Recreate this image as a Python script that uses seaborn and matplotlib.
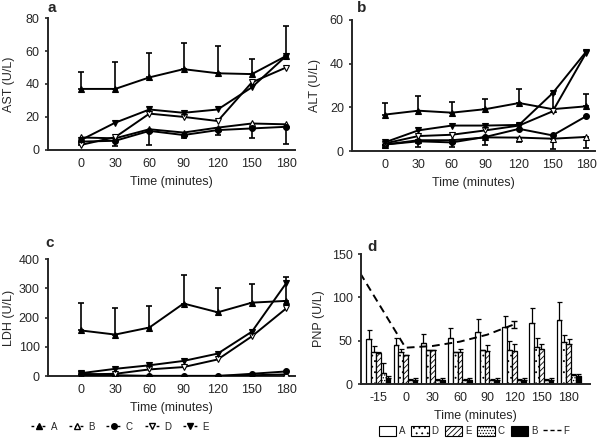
import numpy as np
import pandas as pd
import matplotlib
matplotlib.use('Agg')
import matplotlib.pyplot as plt
import seaborn as sns
from matplotlib.lines import Line2D
from matplotlib.patches import Patch

# time points (minutes)
times = [0, 30, 60, 90, 120, 150, 180]

# AST (U/L)
ast_A = [37, 37, 44, 49, 46.5, 46, 57]
ast_A_err = [10, 16.5, 15, 16, 16.5, 9, 18]
ast_B = [7.5, 7, 12.5, 10.5, 13.5, 16, 15.5]
ast_C = [5, 5.5, 11.5, 9, 12, 13, 14]
ast_C_err = [2, 3, 8.5, 2, 3, 6, 10.5]
ast_D = [3, 7.7, 22, 20, 17.5, 41, 50]
ast_E = [6, 16.5, 24.5, 22.5, 24.5, 38, 57]

# ALT (U/L)
alt_A = [16.7, 18.5, 17.6, 19.2, 22, 19.2, 20.5]
alt_A_err = [5.3, 6.5, 4.8, 4.8, 6.5, 7, 5.8]
alt_B = [3, 5, 5, 6.3, 6.2, 5.7, 6.5]
alt_B_err = [1.5, 3, 3, 3.5, 2, 4.5, 5]
alt_C = [3, 4.5, 4, 6.5, 10.2, 7.2, 16]
alt_D = [3.5, 6.9, 7.5, 9.5, 11.7, 18.2, 45]
alt_E = [4, 9.5, 11.7, 11.7, 12, 26.5, 45.5]

# LDH (U/L)
ldh_A = [156, 142, 166, 248, 218, 251, 257]
ldh_A_err = [95, 92, 74, 98, 84, 63, 83]
ldh_B = [2, 1, 1, 1, 1, 3, 6]
ldh_C = [8, 3, 0.5, 0.5, 0.5, 8, 16]
ldh_D = [6, 8, 23, 31, 57, 136, 231]
ldh_E = [10, 25, 37, 52, 77, 152, 317]

# PNP (U/L) bars
pnp_times = ['-15', '0', '30', '60', '90', '120', '150', '180']
pnp_groups = ['A', 'D', 'E', 'C', 'B']
pnp_A = [51.5, 45, 47, 52.7, 60, 66, 70, 73.5]
pnp_A_err = [11.5, 8.5, 11, 12.3, 15, 13, 18, 21]
pnp_D = [37, 36.5, 39, 37.3, 39, 39, 43, 49]
pnp_D_err = [6.5, 4.5, 0, 0, 0, 10.6, 9.7, 8]
pnp_E = [35.4, 33.5, 39, 37.3, 38, 38, 40.8, 46]
pnp_E_err = [2, 0, 0, 2.7, 7, 7.8, 5.7, 5.5]
pnp_C = [13, 4.6, 4.6, 4.6, 4.6, 4.6, 4.6, 10]
pnp_C_err = [11, 1.4, 1.4, 1.4, 1.4, 1.4, 1.4, 2]
pnp_B = [7.3, 5, 5, 5, 5, 5, 5, 9.2]
pnp_B_err = [1.7, 1.5, 1.5, 1.5, 1.5, 1.5, 1.5, 2.8]

# PNP line F
F_times = [-25, 0, 30, 60, 90, 120]
F_vals = [128, 42, 44, 49, 57, 69]
F_err = [0, 0, 0, 0, 0, 4]

sns.set_style('ticks')
plt.rcParams['font.family'] = ['Liberation Sans', 'DejaVu Sans']
plt.rcParams['hatch.linewidth'] = 0.6

markers = {'A': ('^', 'black'), 'B': ('^', 'white'), 'C': ('o', 'black'),
           'D': ('v', 'white'), 'E': ('v', 'black')}

fig = plt.figure(figsize=(6, 4.42), dpi=100)
ax_a = fig.add_axes([0.08, 0.661, 0.412, 0.298])
ax_b = fig.add_axes([0.587, 0.658, 0.405, 0.297])
ax_c = fig.add_axes([0.08, 0.149, 0.412, 0.265])
ax_d = fig.add_axes([0.602, 0.131, 0.382, 0.294])

fs = 9


def finish(ax, ylabel, letter, label_x, letter_xy):
    ax.set_xlabel('Time (minutes)', fontsize=fs, labelpad=4)
    ax.set_ylabel(ylabel, fontsize=fs)
    ax.yaxis.set_label_coords(label_x, 0.5)
    ax.tick_params(labelsize=fs, length=2.5, width=1.2)
    ax.tick_params(axis='x', length=0, pad=6)
    sns.despine(ax=ax)
    for s in ['left', 'bottom']:
        ax.spines[s].set_linewidth(1.4)
    ax.text(letter_xy[0], letter_xy[1], letter, transform=ax.transAxes, fontsize=11,
            fontweight='bold', ha='left', va='center')


def line_panel(ax, series, up_err, down_err, ymax, ystep):
    for g, vals in series.items():
        m, fc = markers[g]
        sns.lineplot(x=times, y=vals, ax=ax, color='black', lw=1.4, marker=m,
                     markersize=4.2, markerfacecolor=fc, markeredgecolor='black',
                     markeredgewidth=0.8, zorder=3)
    for g, err in up_err.items():
        ax.errorbar(times, series[g], yerr=[np.zeros(len(err)), err], fmt='none',
                    ecolor='black', elinewidth=1.2, capsize=2.5, capthick=1.2)
    for g, err in down_err.items():
        ax.errorbar(times, series[g], yerr=[err, np.zeros(len(err))], fmt='none',
                    ecolor='black', elinewidth=1.2, capsize=2.5, capthick=1.2)
    ax.set_xlim(-29, 188)
    ax.set_ylim(0, ymax)
    ax.set_xticks(times)
    ax.set_yticks(np.arange(0, ymax + 1, ystep))


line_panel(ax_a, {'A': ast_A, 'B': ast_B, 'C': ast_C, 'D': ast_D, 'E': ast_E},
           {'A': ast_A_err}, {'C': ast_C_err}, 80, 20)
finish(ax_a, 'AST (U/L)', 'a', -0.135, (0.0, 1.075))
line_panel(ax_b, {'A': alt_A, 'B': alt_B, 'C': alt_C, 'D': alt_D, 'E': alt_E},
           {'A': alt_A_err}, {'B': alt_B_err}, 60, 20)
finish(ax_b, 'ALT (U/L)', 'b', -0.13, (0.02, 1.09))
line_panel(ax_c, {'A': ldh_A, 'B': ldh_B, 'C': ldh_C, 'D': ldh_D, 'E': ldh_E},
           {'A': ldh_A_err}, {}, 400, 100)
finish(ax_c, 'LDH (U/L)', 'c', -0.135, (-0.01, 1.14))

# panel d: grouped bars
pnp_vals = {'A': pnp_A, 'D': pnp_D, 'E': pnp_E, 'C': pnp_C, 'B': pnp_B}
pnp_errs = {'A': pnp_A_err, 'D': pnp_D_err, 'E': pnp_E_err, 'C': pnp_C_err, 'B': pnp_B_err}
df = pd.DataFrame([(t, g, pnp_vals[g][i]) for g in pnp_groups for i, t in enumerate(pnp_times)],
                  columns=['time', 'group', 'value'])
faces = {'A': 'white', 'D': 'white', 'E': 'white', 'C': 'white', 'B': 'black'}
hatches = {'A': '', 'D': '...', 'E': '//////', 'C': '......', 'B': ''}
sns.barplot(data=df, x='time', y='value', hue='group', order=pnp_times,
            hue_order=pnp_groups, palette=faces, edgecolor='black', linewidth=0.9,
            width=0.88, errorbar=None, legend=False, ax=ax_d)
for g, cont in zip(pnp_groups, ax_d.containers):
    xs, ys = [], []
    for bar in cont:
        bar.set_hatch(hatches[g])
        xs.append(bar.get_x() + bar.get_width() / 2)
        ys.append(bar.get_height())
    err = pnp_errs[g]
    ax_d.errorbar(xs, ys, yerr=[np.zeros(len(err)), err], fmt='none', ecolor='black',
                  elinewidth=0.9, capsize=1.8, capthick=0.9)


def tpos(t):
    if str(t) in pnp_times:
        return pnp_times.index(str(t))
    return (t + 15) / 15.0


F_pos = [tpos(t) for t in F_times]
ax_d.plot(F_pos, F_vals, color='black', lw=1.4, ls=(0, (4, 2.5)))
ax_d.errorbar(F_pos[-1], F_vals[-1], yerr=F_err[-1], fmt='none', ecolor='black',
              elinewidth=1, capsize=2)
ax_d.set_xlim(-0.63, 7.8)
ax_d.set_ylim(0, 150)
ax_d.set_yticks([0, 50, 100, 150])
finish(ax_d, 'PNP (U/L)', 'd', -0.16, (0.025, 1.055))

# legends
line_handles = [Line2D([], [], color='black', lw=1, ls=(0, (2, 2)), marker=markers[g][0],
                       markersize=4, markerfacecolor=markers[g][1], markeredgecolor='black')
                for g in ['A', 'B', 'C', 'D', 'E']]
fig.legend(line_handles, ['A', 'B', 'C', 'D', 'E'], loc='center', ncol=5,
           bbox_to_anchor=(0.2, 0.035), frameon=False, fontsize=7, handlelength=1.6,
           handletextpad=0.4, columnspacing=1.2)

bar_handles = [Patch(facecolor=faces[g], edgecolor='black', hatch=hatches[g], lw=0.8)
               for g in pnp_groups]
bar_handles.append(Line2D([], [], color='black', lw=1, ls=(0, (3, 2))))
fig.legend(bar_handles, pnp_groups + ['F'], loc='center', ncol=6,
           bbox_to_anchor=(0.79, 0.025), frameon=False, fontsize=7, handlelength=1.8,
           handleheight=1.2, handletextpad=0.3, columnspacing=0.6)

fig.savefig('out.png', dpi=100)
